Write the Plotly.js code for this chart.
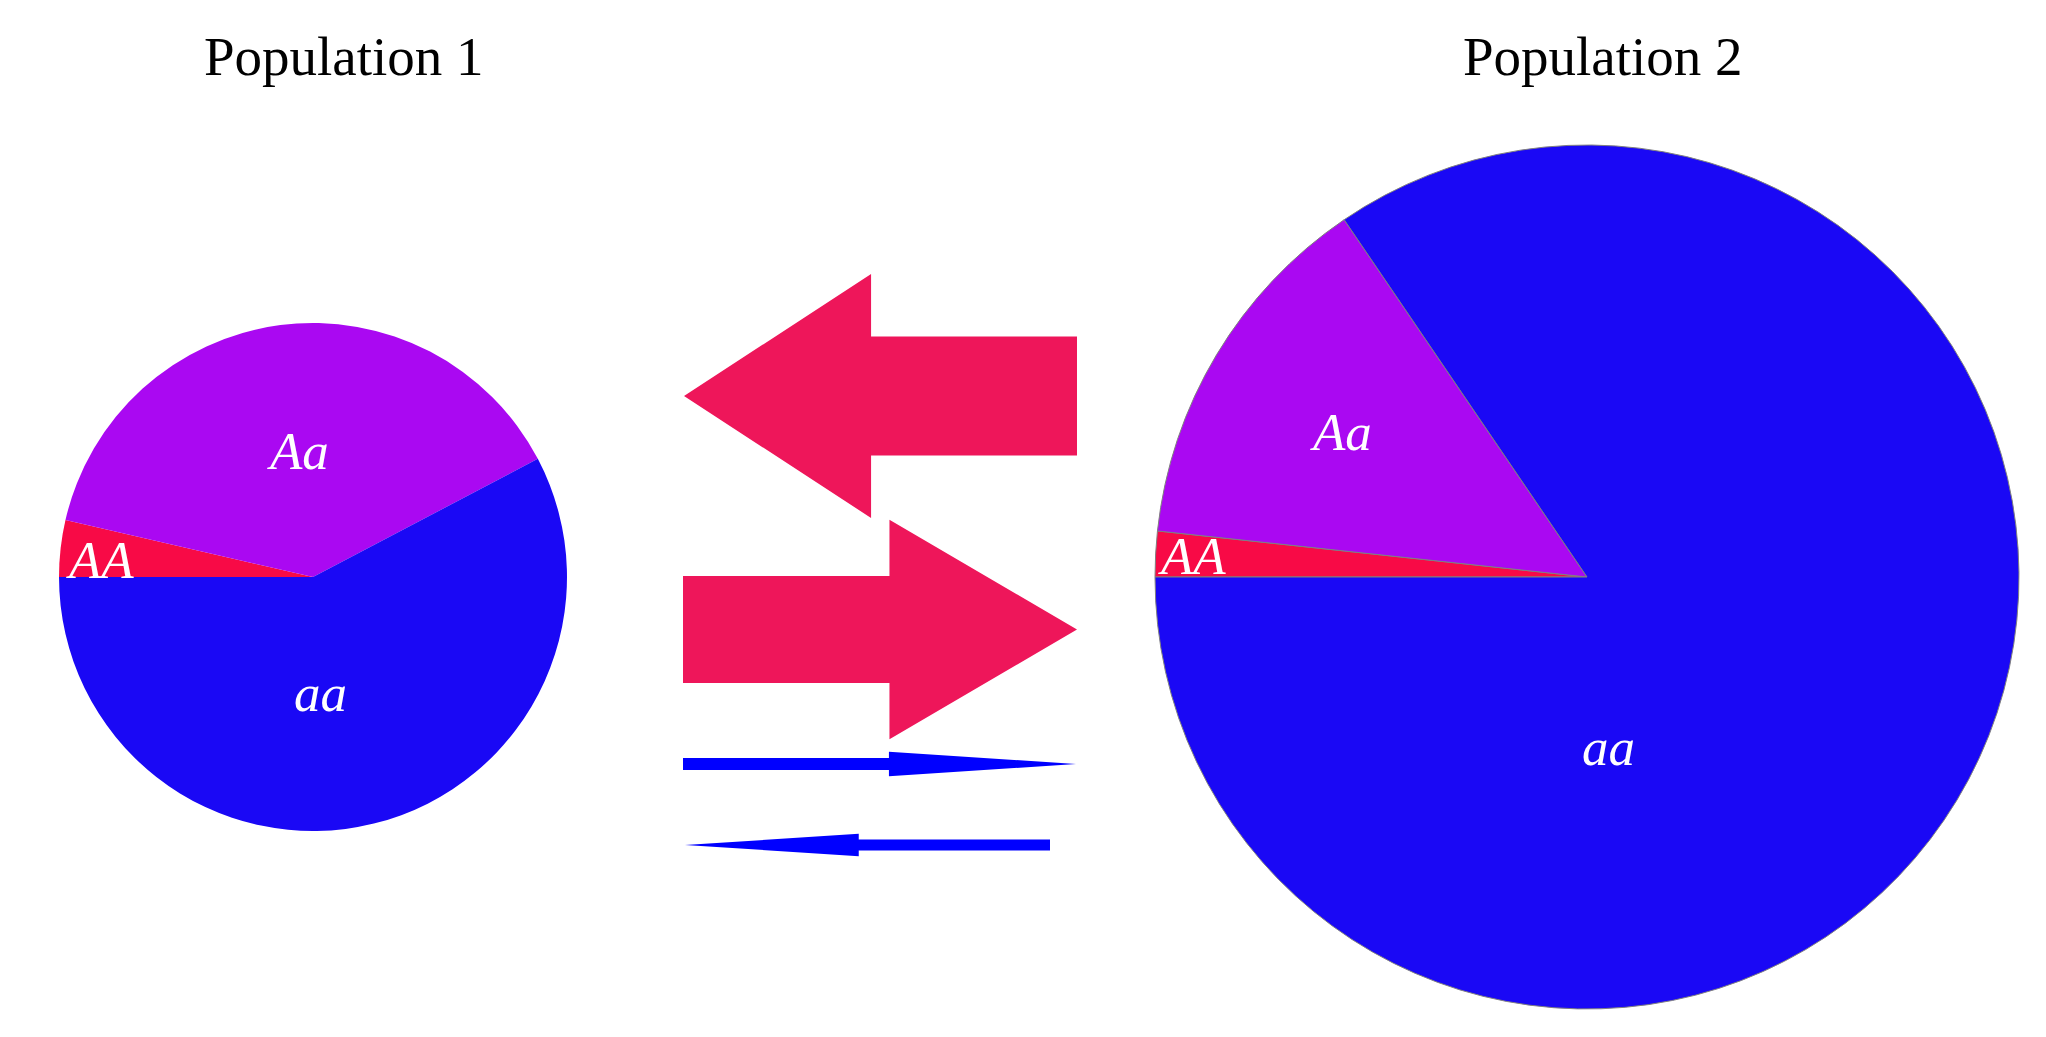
<!DOCTYPE html>
<html>
<head>
<meta charset="utf-8">
<script src="https://cdn.plot.ly/plotly-3.0.1.min.js"></script>
<style>
  html, body { margin: 0; padding: 0; background: #fff; }
  #grafica { width: 2046px; height: 1037px; }
</style>
</head>
<body>
<div id="grafica"></div>
<script>
// Datos
const genotipos = ['AA', 'Aa', 'aa'];
const frecPob1 = [0.036, 0.387, 0.577];
const frecPob2 = [0.017, 0.138, 0.845];
const nombresPob = ['Population 1', 'Population 2'];

// Flujos de migración: dirección (-1 = hacia Population 1) y grosor relativo
const flujoDireccion = [-1, 1, 1, -1];
const flujoGrosor = [1.0, 0.9, 0.1, 0.092];

// Estilos
const coloresGenotipo = ['#F80A46', '#AA08F2', '#1A08F5'];
const coloresFlujo = ['#EE165A', '#EE165A', '#0000FF', '#0000FF'];

// Geometría (píxeles)
const W = 2046, H = 1037;
const centros = [[313, 577], [1587, 577]];
const radios = [254, 432];
const tituloX = [344, 1603];
const tituloY = 56;
const filasFlecha = [396, 629.5, 764, 845];
const tramosFlecha = [[684, 1077], [683, 1077], [683, 1076], [685, 1050]];
const escalaGrosor = 119;
const razonPunta = 2.05;
const razonLargoPunta = 0.476;

// Posición de las etiquetas: fracción del radio y fracción dentro de la porción
const etiquetaRadio = [[0.84, 0.5, 0.457], [0.916, 0.66, 0.397]];
const etiquetaDentro = [[0.35, 0.504, 0.55], [0.49, 0.49, 0.68]];

const rotacion = -90;

function dominioPie(i) {
    const [cx, cy] = centros[i];
    const r = radios[i];
    return {
        x: [(cx - r) / W, (cx + r) / W],
        y: [(H - cy - r) / H, (H - cy + r) / H]
    };
}

function flechaPoligono(i) {
    const [x0, x1] = tramosFlecha[i];
    const y = filasFlecha[i];
    const h = flujoGrosor[i] * escalaGrosor / 2;
    const hp = h * razonPunta;
    const largo = (x1 - x0) * razonLargoPunta;
    let xs, ys;
    if (flujoDireccion[i] > 0) {
        const xb = x1 - largo;
        xs = [x0, xb, xb, x1, xb, xb, x0, x0];
        ys = [y - h, y - h, y - hp, y, y + hp, y + h, y + h, y - h];
    } else {
        const xb = x0 + largo;
        xs = [x1, xb, xb, x0, xb, xb, x1, x1];
        ys = [y - h, y - h, y - hp, y, y + hp, y + h, y + h, y - h];
    }
    return { xs, ys };
}

const frecuencias = [frecPob1, frecPob2];
const trazas = [];

// Flechas de migración
flujoGrosor.forEach((g, i) => {
    const p = flechaPoligono(i);
    trazas.push({
        x: p.xs,
        y: p.ys,
        type: 'scatter',
        mode: 'lines',
        fill: 'toself',
        fillcolor: coloresFlujo[i],
        line: { color: coloresFlujo[i], width: 0 },
        hoverinfo: 'skip',
        showlegend: false
    });
});

// Pasteles
frecuencias.forEach((f, i) => {
    trazas.push({
        type: 'pie',
        labels: genotipos,
        values: f,
        sort: false,
        direction: 'clockwise',
        rotation: rotacion,
        textinfo: 'none',
        domain: dominioPie(i),
        marker: {
            colors: coloresGenotipo,
            line: { color: i === 0 ? 'rgba(0,0,0,0)' : '#808080', width: i === 0 ? 0 : 1 }
        },
        showlegend: false
    });
});

// Anotaciones: títulos y etiquetas
const anotaciones = [];
nombresPob.forEach((n, i) => {
    anotaciones.push({
        x: tituloX[i], y: tituloY, xref: 'x', yref: 'y',
        text: n, showarrow: false,
        xanchor: 'center', yanchor: 'middle',
        font: { family: 'Liberation Serif, Times New Roman, serif', size: 55, color: '#000' }
    });
});

frecuencias.forEach((f, i) => {
    const total = f.reduce((a, b) => a + b, 0);
    let acum = 0;
    f.forEach((v, k) => {
        const inicio = rotacion + 360 * acum / total;
        const ancho = 360 * v / total;
        const ang = (inicio + etiquetaDentro[i][k] * ancho) * Math.PI / 180;
        const rr = etiquetaRadio[i][k] * radios[i];
        anotaciones.push({
            x: centros[i][0] + rr * Math.sin(ang),
            y: centros[i][1] - rr * Math.cos(ang),
            xref: 'x', yref: 'y',
            text: '<i>' + genotipos[k] + '</i>', showarrow: false,
            xanchor: 'center', yanchor: 'middle',
            font: { family: 'Liberation Serif, Times New Roman, serif', size: 53, color: '#fff' }
        });
        acum += v;
    });
});

const layout = {
    width: W,
    height: H,
    margin: { l: 0, r: 0, t: 0, b: 0 },
    paper_bgcolor: '#fff',
    plot_bgcolor: 'rgba(0,0,0,0)',
    showlegend: false,
    xaxis: { range: [0, W], visible: false, fixedrange: true, domain: [0, 1] },
    yaxis: { range: [H, 0], visible: false, fixedrange: true, domain: [0, 1] },
    annotations: anotaciones
};

Plotly.newPlot('grafica', trazas, layout, { staticPlot: true });
</script>
</body>
</html>
